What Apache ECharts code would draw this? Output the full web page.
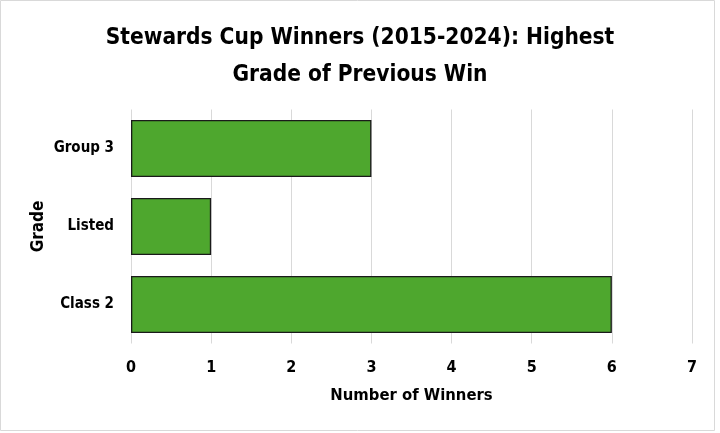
<!DOCTYPE html>
<html><head><meta charset="utf-8">
<script src="https://cdn.jsdelivr.net/npm/echarts@6/dist/echarts.min.js"></script>
<style>html,body{margin:0;padding:0;background:#fff}#c{width:720px;height:433px}</style>
</head><body><div id="c"></div>
<script>
const categories = ['Class 2', 'Listed', 'Group 3'];
const winners = [6, 1, 3];
const xTicks = [0, 1, 2, 3, 4, 5, 6, 7];
const titleText = 'Stewards Cup Winners (2015-2024): Highest\nGrade of Previous Win';
const FONT = "'Liberation Sans Narrow', 'DejaVu Sans Condensed', Roboto, sans-serif";
const chart = echarts.init(document.getElementById('c'));
chart.setOption({
  animation: false,
  graphic: [{type:'rect', shape:{x:0.5,y:0.5,width:714,height:430}, style:{fill:'none', stroke:'#d9d9d9', lineWidth:1}, silent:true}],
  title: {text: titleText, left: 'center', top: 15,
    textStyle: {fontFamily: FONT, fontWeight: 'bold', fontSize: 22.5, color: '#000', lineHeight: 37}},
  grid: {left: 131, right: 28, top: 109.5, bottom: 89.5, containLabel: false},
  xAxis: {type: 'value', min: xTicks[0], max: xTicks[xTicks.length-1], interval: 1,
    name: 'Number of Winners', nameLocation: 'middle', nameGap: 44,
    nameTextStyle: {fontFamily: FONT, fontWeight: 'bold', fontSize: 16.5, color: '#000'},
    axisLine: {show: false}, axisTick: {show: false},
    axisLabel: {fontFamily: FONT, fontWeight: 'bold', fontSize: 16, color: '#000', margin: 16},
    splitLine: {lineStyle: {color: '#d9d9d9', width: 1}}},
  yAxis: {type: 'category', data: categories,
    name: 'Grade', nameLocation: 'middle', nameGap: 84, nameRotate: 90, nameMoveOverlap: false,
    nameTextStyle: {fontFamily: FONT, fontWeight: 'bold', fontSize: 17, color: '#000'},
    axisLine: {show: false}, axisTick: {show: false},
    axisLabel: {fontFamily: FONT, fontWeight: 'bold', fontSize: 15, color: '#000', margin: 17}},
  series: [{type: 'bar', data: winners, barCategoryGap: '27%',
    itemStyle: {color: '#4ea72e', borderColor: '#1a1a1a', borderWidth: 1.3}}]
});
</script></body></html>
